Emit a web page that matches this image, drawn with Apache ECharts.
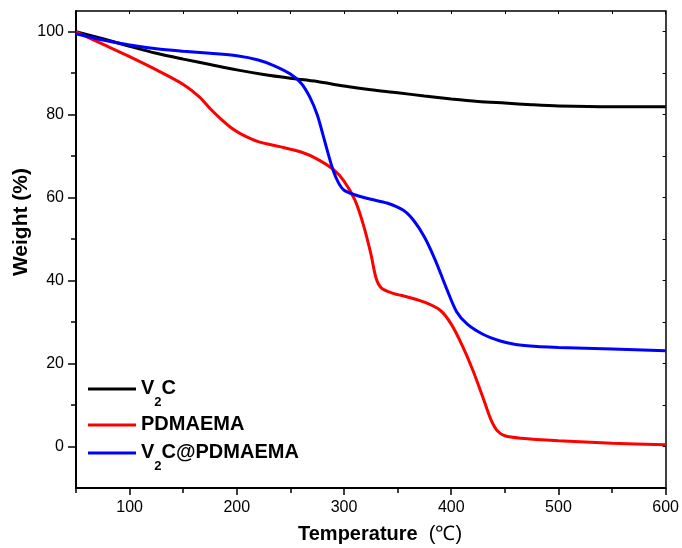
<!DOCTYPE html>
<html>
<head>
<meta charset="utf-8">
<script src="https://cdn.jsdelivr.net/npm/echarts@6/dist/echarts.min.js"></script>
<style>
  html, body { margin: 0; padding: 0; background: #fff; }
  #chart { width: 682px; height: 548px; }
</style>
</head>
<body>
<div id="chart"></div>
<script>
// values (temperature in ℃, weight in %)
const v2cT = [50, 75, 100, 125, 150, 175, 200, 225, 250, 275, 300, 325, 350, 375, 400, 425, 450, 475, 500, 550, 600];
const v2cW = [100, 98.3, 96.5, 94.8, 93.4, 92.1, 90.8, 89.7, 88.8, 88.0, 86.9, 86.0, 85.3, 84.5, 83.8, 83.2, 82.8, 82.4, 82.1, 81.9, 81.9];

const pdmT = [50, 75, 100, 125, 150, 165, 175, 185, 195, 205, 220, 240, 260, 275, 290, 300, 310, 318, 325, 330, 335, 345, 360, 375, 390, 400, 410, 420, 430, 437, 443, 450, 465, 500, 550, 600];
const pdmW = [100, 97, 94, 90.8, 87.3, 84.3, 81.5, 79, 76.8, 75.2, 73.5, 72.3, 71, 69.3, 66.8, 64, 59.5, 53.5, 46.5, 40.5, 38.2, 37, 36, 34.8, 32.8, 29.5, 24.5, 18.5, 11.5, 6.5, 3.8, 2.6, 2, 1.4, 0.8, 0.4];

const compT = [50, 75, 100, 125, 150, 175, 200, 220, 235, 250, 260, 268, 275, 280, 285, 290, 295, 300, 310, 325, 340, 355, 365, 375, 385, 395, 405, 415, 430, 445, 460, 480, 500, 550, 600];
const compW = [99.5, 98, 96.8, 95.9, 95.3, 94.8, 94.2, 93.2, 91.8, 89.8, 87.6, 84.3, 80, 75.5, 70.8, 66.5, 63.5, 61.8, 60.7, 59.6, 58.7, 57, 54.5, 50.5, 45, 38.5, 32.5, 29.5, 27, 25.5, 24.6, 24.1, 23.9, 23.5, 23.1];

const xLabels = [100, 200, 300, 400, 500, 600];
const xMinor = [50, 150, 250, 350, 450, 550];
const yLabels = [0, 20, 40, 60, 80, 100];
const yMinor = [10, 30, 50, 70, 90];

const names = ['V2C', 'PDMAEMA', 'V2C@PDMAEMA'];
const colors = ['#000000', '#ff0000', '#0000ff'];

const zip = (a, b) => a.map((v, i) => [v, b[i]]);
const font = 'Arial, "Liberation Sans", sans-serif';

const chart = echarts.init(document.getElementById('chart'));

const legendText = (name) => {
  if (name.startsWith('V2C')) {
    return '{m|V}{s|2}{m|' + name.slice(2) + '}';
  }
  return '{m|' + name + '}';
};

const legendAt = (name, top) => ({
  data: [name],
  left: 83,
  top: top,
  icon: 'rect',
  itemWidth: 48,
  itemHeight: 3,
  itemGap: 0,
  formatter: legendText,
  selectedMode: false,
  textStyle: {
    rich: {
      m: { fontFamily: font, fontSize: 20, fontWeight: 'bold', color: '#000', lineHeight: 22, verticalAlign: 'top', letterSpacing: -0.5 },
      s: { fontFamily: font, fontSize: 13, fontWeight: 'bold', color: '#000', lineHeight: 13, verticalAlign: 'top', padding: [18, 0, 0, 0] }
    }
  }
});

const option = {
  backgroundColor: '#fff',
  animation: false,
  grid: { left: 76, right: 16, top: 11, bottom: 60 },
  legend: [
    legendAt(names[0], 373),
    legendAt(names[1], 409),
    legendAt(names[2], 437)
  ],
  xAxis: [
    {
      type: 'value', min: 50, max: 600, position: 'bottom',
      axisLine: { onZero: false, lineStyle: { color: '#000', width: 2 } },
      axisTick: { customValues: xLabels, length: 7, lineStyle: { color: '#000', width: 1.5 } },
      axisLabel: { customValues: xLabels, color: '#000', fontFamily: font, fontSize: 16, margin: 12 },
      splitLine: { show: false }
    },
    {
      type: 'value', min: 50, max: 600, position: 'top',
      axisLine: { onZero: false, lineStyle: { color: '#000', width: 1.5 } },
      axisTick: { customValues: xLabels.concat(xMinor), inside: true, length: 3, lineStyle: { color: '#000' } },
      axisLabel: { show: false },
      splitLine: { show: false }
    },
    {
      type: 'value', min: 50, max: 600, position: 'bottom',
      axisLine: { show: false, onZero: false },
      axisTick: { customValues: xMinor, length: 5, lineStyle: { color: '#000', width: 1.5 } },
      axisLabel: { show: false },
      splitLine: { show: false }
    }
  ],
  yAxis: [
    {
      type: 'value', min: -10, max: 105, position: 'left',
      axisLine: { show: true, onZero: false, lineStyle: { color: '#000', width: 2 } },
      axisTick: { show: true, customValues: yLabels, length: 8, lineStyle: { color: '#000', width: 1.5 } },
      axisLabel: { customValues: yLabels, color: '#000', fontFamily: font, fontSize: 16, margin: 12 },
      splitLine: { show: false }
    },
    {
      type: 'value', min: -10, max: 105, position: 'right',
      axisLine: { show: true, onZero: false, lineStyle: { color: '#000', width: 1.5 } },
      axisTick: { show: true, customValues: yLabels.concat(yMinor), inside: true, length: 3, lineStyle: { color: '#000' } },
      axisLabel: { show: false },
      splitLine: { show: false }
    },
    {
      type: 'value', min: -10, max: 105, position: 'left',
      axisLine: { show: false, onZero: false },
      axisTick: { show: true, customValues: yMinor, length: 5, lineStyle: { color: '#000', width: 1.5 } },
      axisLabel: { show: false },
      splitLine: { show: false }
    }
  ],
  graphic: [
    {
      type: 'text', left: 11, top: 168, rotation: Math.PI / 2,
      style: { text: 'Weight (%)', fontFamily: font, fontSize: 21, fontWeight: 'bold', fill: '#000' }
    },
    {
      type: 'text', left: 298, top: 524,
      style: {
        text: '{b|Temperature}{n|  (℃)}',
        rich: {
          b: { fontFamily: font, fontSize: 20, fontWeight: 'bold', fill: '#000' },
          n: { fontFamily: font, fontSize: 20, fill: '#000' }
        }
      }
    }
  ],
  series: [
    { name: names[0], data: zip(v2cT, v2cW) },
    { name: names[1], data: zip(pdmT, pdmW) },
    { name: names[2], data: zip(compT, compW) }
  ].map((s, i) => ({
    name: s.name,
    type: 'line',
    data: s.data,
    smooth: 0.3,
    showSymbol: false,
    color: colors[i],
    lineStyle: { color: colors[i], width: 3 }
  }))
};

chart.setOption(option);
</script>
</body>
</html>
